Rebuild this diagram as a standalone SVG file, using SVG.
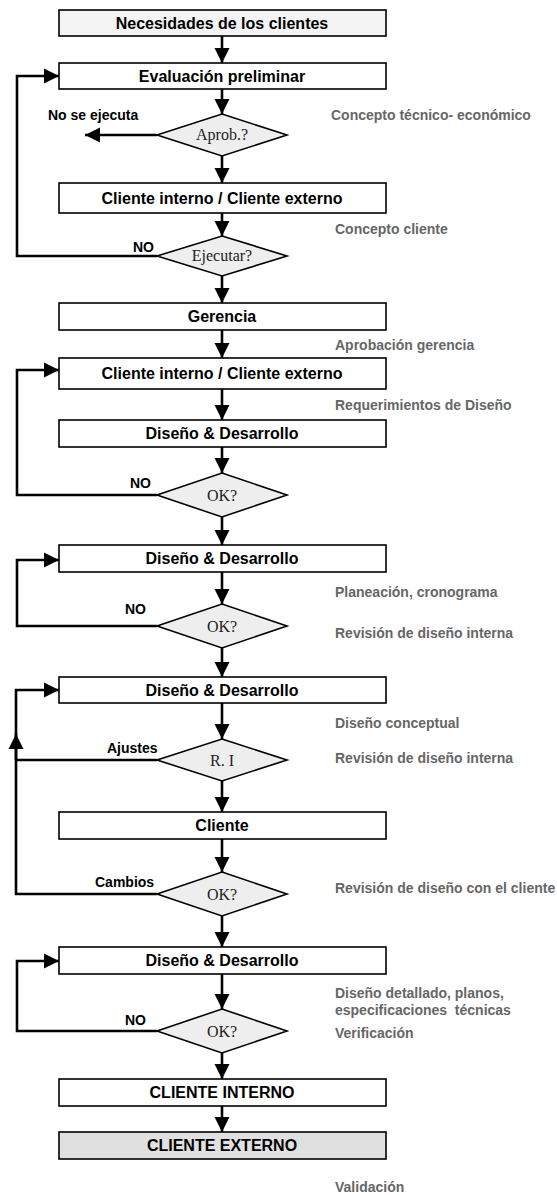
<svg xmlns="http://www.w3.org/2000/svg" width="557" height="1195" viewBox="0 0 557 1195">
<style>
.box{fill:#ffffff;stroke:#000;stroke-width:1.6}
.dia{fill:#eeeeee;stroke:#000;stroke-width:1.6}
.bt{font-family:"Liberation Sans",Arial,sans-serif;font-weight:bold;font-size:16px;fill:#000;text-anchor:middle}
.dt{font-family:"Liberation Serif","Times New Roman",serif;font-size:16px;fill:#222;text-anchor:middle}
.lt{font-family:"Liberation Sans",Arial,sans-serif;font-weight:bold;font-size:14px;fill:#000}
.gt{font-family:"Liberation Sans",Arial,sans-serif;font-weight:bold;font-size:14px;fill:#666}
.c{fill:none;stroke:#000;stroke-width:2.6}
</style>
<defs>
<marker id="ah" markerUnits="userSpaceOnUse" markerWidth="16" markerHeight="16" viewBox="0 0 16 16" refX="15" refY="8" orient="auto">
<path d="M0,0.5 L15,8 L0,15.5 Z" fill="#000"/>
</marker>
</defs>
<g id="connectors">
<line class="c" x1="222" y1="36" x2="222" y2="63" marker-end="url(#ah)"/>
<line class="c" x1="222" y1="89" x2="222" y2="114" marker-end="url(#ah)"/>
<line class="c" x1="157" y1="135" x2="85" y2="135" marker-end="url(#ah)"/>
<line class="c" x1="222" y1="156" x2="222" y2="183" marker-end="url(#ah)"/>
<line class="c" x1="222" y1="213" x2="222" y2="236" marker-end="url(#ah)"/>
<polyline class="c" points="157,256 17,256 17,76 59,76" marker-end="url(#ah)"/>
<line class="c" x1="222" y1="276" x2="222" y2="303" marker-end="url(#ah)"/>
<line class="c" x1="222" y1="330" x2="222" y2="358" marker-end="url(#ah)"/>
<line class="c" x1="222" y1="389" x2="222" y2="420" marker-end="url(#ah)"/>
<line class="c" x1="222" y1="447" x2="222" y2="473" marker-end="url(#ah)"/>
<polyline class="c" points="157,495 17,495 17,370 59,370" marker-end="url(#ah)"/>
<line class="c" x1="222" y1="517" x2="222" y2="545" marker-end="url(#ah)"/>
<line class="c" x1="222" y1="572" x2="222" y2="604" marker-end="url(#ah)"/>
<polyline class="c" points="157,626 17,626 17,560 59,560" marker-end="url(#ah)"/>
<line class="c" x1="222" y1="648" x2="222" y2="677" marker-end="url(#ah)"/>
<line class="c" x1="222" y1="703" x2="222" y2="739" marker-end="url(#ah)"/>
<polyline class="c" points="157,894 16,894 16,733"/>
<line class="c" x1="16" y1="760" x2="16" y2="734" marker-end="url(#ah)"/>
<polyline class="c" points="16,734 16,690 59,690" marker-end="url(#ah)"/>
<line class="c" x1="157" y1="760" x2="16" y2="760"/>
<line class="c" x1="222" y1="781" x2="222" y2="812" marker-end="url(#ah)"/>
<line class="c" x1="222" y1="839" x2="222" y2="872" marker-end="url(#ah)"/>
<line class="c" x1="222" y1="916" x2="222" y2="947" marker-end="url(#ah)"/>
<line class="c" x1="222" y1="974" x2="222" y2="1009" marker-end="url(#ah)"/>
<polyline class="c" points="157,1031 17,1031 17,961 59,961" marker-end="url(#ah)"/>
<line class="c" x1="222" y1="1053" x2="222" y2="1079" marker-end="url(#ah)"/>
<line class="c" x1="222" y1="1106" x2="222" y2="1132" marker-end="url(#ah)"/>
</g>
<g id="n1"><rect class="box" x="59" y="10" width="327" height="26" style="fill:#f3f3f3"/><text class="bt" x="222" y="28.5">Necesidades de los clientes</text></g>
<g id="n2"><rect class="box" x="59" y="63" width="327" height="26"/><text class="bt" x="222" y="81.5">Evaluación preliminar</text></g>
<g id="d1"><polygon class="dia" points="222,114 287,135 222,156 157,135"/><text class="dt" x="222" y="140">Aprob.?</text></g>
<g id="n3"><rect class="box" x="59" y="183" width="327" height="30"/><text class="bt" x="222" y="203.5">Cliente interno / Cliente externo</text></g>
<g id="d2"><polygon class="dia" points="222,236 287,256 222,276 157,256"/><text class="dt" x="222" y="261">Ejecutar?</text></g>
<g id="n4"><rect class="box" x="59" y="303" width="327" height="27"/><text class="bt" x="222" y="322">Gerencia</text></g>
<g id="n5"><rect class="box" x="59" y="358" width="327" height="31"/><text class="bt" x="222" y="379">Cliente interno / Cliente externo</text></g>
<g id="n6"><rect class="box" x="59" y="420" width="327" height="27"/><text class="bt" x="222" y="439">Diseño &amp; Desarrollo</text></g>
<g id="d3"><polygon class="dia" points="222,473 287,495 222,517 157,495"/><text class="dt" x="222" y="501">OK?</text></g>
<g id="n7"><rect class="box" x="59" y="545" width="327" height="27"/><text class="bt" x="222" y="564">Diseño &amp; Desarrollo</text></g>
<g id="d4"><polygon class="dia" points="222,604 287,626 222,648 157,626"/><text class="dt" x="222" y="632">OK?</text></g>
<g id="n8"><rect class="box" x="59" y="677" width="327" height="26"/><text class="bt" x="222" y="695.5">Diseño &amp; Desarrollo</text></g>
<g id="d5"><polygon class="dia" points="222,739 287,760 222,781 157,760"/><text class="dt" x="222" y="766">R. I</text></g>
<g id="n9"><rect class="box" x="59" y="812" width="327" height="27"/><text class="bt" x="222" y="831">Cliente</text></g>
<g id="d6"><polygon class="dia" points="222,872 287,894 222,916 157,894"/><text class="dt" x="222" y="900">OK?</text></g>
<g id="n10"><rect class="box" x="59" y="947" width="327" height="27"/><text class="bt" x="222" y="966">Diseño &amp; Desarrollo</text></g>
<g id="d7"><polygon class="dia" points="222,1009 287,1031 222,1053 157,1031"/><text class="dt" x="222" y="1037">OK?</text></g>
<g id="n11"><rect class="box" x="59" y="1079" width="327" height="27"/><text class="bt" x="222" y="1098">CLIENTE INTERNO</text></g>
<g id="n12"><rect class="box" x="59" y="1132" width="327" height="27" style="fill:#e0e0e0"/><text class="bt" x="222" y="1151">CLIENTE EXTERNO</text></g>
<g id="labels">
<text class="lt" x="48" y="120">No se ejecuta</text>
<text class="lt" x="133" y="252">NO</text>
<text class="lt" x="130" y="488">NO</text>
<text class="lt" x="125" y="614">NO</text>
<text class="lt" x="107" y="753">Ajustes</text>
<text class="lt" x="95" y="887">Cambios</text>
<text class="lt" x="125" y="1025">NO</text>
<text class="gt" x="331" y="120">Concepto técnico- económico</text>
<text class="gt" x="335" y="234">Concepto cliente</text>
<text class="gt" x="335" y="350">Aprobación gerencia</text>
<text class="gt" x="335" y="410">Requerimientos de Diseño</text>
<text class="gt" x="335" y="597">Planeación, cronograma</text>
<text class="gt" x="335" y="638">Revisión de diseño interna</text>
<text class="gt" x="335" y="728">Diseño conceptual</text>
<text class="gt" x="335" y="763">Revisión de diseño interna</text>
<text class="gt" x="335" y="893">Revisión de diseño con el cliente</text>
<text class="gt" x="335" y="998">Diseño detallado, planos,</text>
<text class="gt" x="335" y="1015" xml:space="preserve">especificaciones  técnicas</text>
<text class="gt" x="335" y="1038">Verificación</text>
<text class="gt" x="335" y="1192">Validación</text>
</g>
</svg>
